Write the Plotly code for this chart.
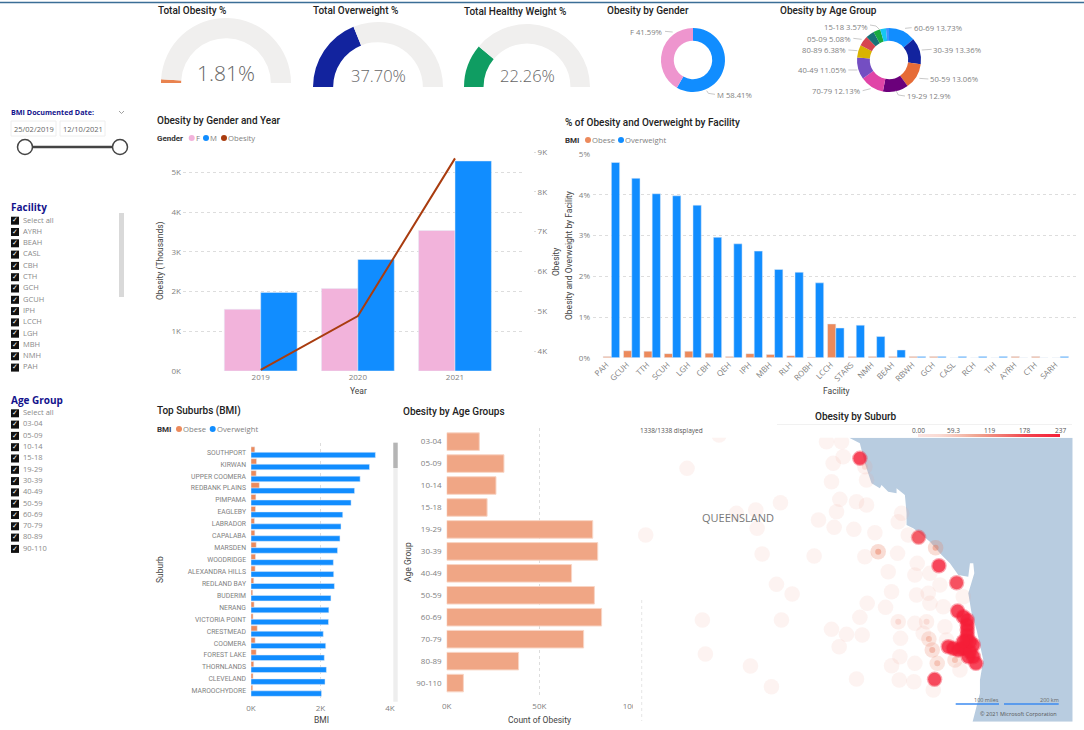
import plotly.graph_objects as go

W = 1084
H = 730

# gauges
gauge_names = ["Total Obesity %", "Total Overweight %", "Total Healthy Weight %"]
gauge_values = [1.81, 37.70, 22.26]
gauge_colors = ["#E9834F", "#12239E", "#0F9D62"]

# donuts
gender_names = ["M", "F"]
gender_share = [58.41, 41.59]
gender_colors = ["#118DFF", "#EE95CE"]

age_ring_names = ["60-69", "30-39", "50-59", "19-29", "70-79", "40-49", "80-89", "05-09", "10-14", "15-18", "03-04", "90-110"]
age_ring_share = [13.73, 13.36, 13.06, 12.9, 12.13, 11.05, 6.38, 5.08, 4.3, 3.57, 2.9, 1.54]
age_ring_colors = ["#118DFF", "#12239E", "#E66C37", "#6B007B", "#E044A7", "#744EC2", "#D9B300", "#D64550",
                   "#197278", "#1AAB40", "#15C6F4", "#4092FF"]

# gender and year
years = [2019, 2020, 2021]
female_obesity = [1554, 2080, 3540]
male_obesity = [1980, 2810, 5290]
total_obesity = [3530, 4880, 8840]

# facility
facilities = ["PAH", "GCUH", "TTH", "SCUH", "LGH", "CBH", "QEH", "IPH", "MBH", "RLH", "ROBH", "LCCH", "STARS", "NMH",
              "BEAH", "RBWH", "GCH", "CASL", "RCH", "TIH", "AYRH", "CTH", "SARH"]
facility_obese = [0.03, 0.17, 0.16, 0.10, 0.16, 0.11, 0.03, 0.10, 0.08, 0.05, 0.02, 0.83, 0.03, 0.03,
                  0.03, 0.03, 0.03, 0, 0, 0, 0.03, 0.03, 0]
facility_overweight = [4.80, 4.41, 4.03, 3.98, 3.75, 2.96, 2.80, 2.62, 2.17, 2.10, 1.84, 0.73, 0.80, 0.52,
                       0.19, 0.03, 0.03, 0.03, 0.03, 0.03, 0, 0, 0.03]

# suburbs
suburbs = ["SOUTHPORT", "KIRWAN", "UPPER COOMERA", "REDBANK PLAINS", "PIMPAMA", "EAGLEBY", "LABRADOR", "CAPALABA",
           "MARSDEN", "WOODRIDGE", "ALEXANDRA HILLS", "REDLAND BAY", "BUDERIM", "NERANG", "VICTORIA POINT",
           "CRESTMEAD", "COOMERA", "FOREST LAKE", "THORNLANDS", "CLEVELAND", "MAROOCHYDORE"]
suburb_obese = [110, 160, 150, 240, 140, 130, 100, 110, 150, 130, 120, 80, 50, 90, 60, 180, 120, 150, 80, 60, 50]
suburb_overweight = [3580, 3410, 3140, 2980, 2880, 2640, 2590, 2560, 2490, 2370, 2380, 2400, 2300, 2240, 2230,
                     2080, 2150, 2110, 2170, 2130, 2030]

# age groups
age_groups = ["03-04", "05-09", "10-14", "15-18", "19-29", "30-39", "40-49", "50-59", "60-69", "70-79", "80-89", "90-110"]
age_counts = [17600, 30900, 26600, 21800, 78800, 81500, 67400, 79700, 83600, 73900, 38800, 9000]

# slicers
facility_items = ["Select all", "AYRH", "BEAH", "CASL", "CBH", "CTH", "GCH", "GCUH", "IPH", "LCCH", "LGH", "MBH", "NMH", "PAH"]
age_items = ["Select all"] + age_groups

# map, in the map axes units
bubble_x = [268, 172, 590, 635, 610, 605, 640, 710, 630, 680, 710, 620, 452, 320, 378, 566, 613, 672, 382, 48, 735, 805,
            815, 835, 397, 553, 705, 803, 775, 855, 862, 900, 930, 440, 487, 785, 860, 895, 712, 767, 900, 940, 690, 855,
            218, 455, 605, 650, 697, 628, 812, 880, 227, 362, 810, 785, 855, 680, 808, 852, 425, 910, 990, 945, 950, 1000,
            745, 917, 897, 907, 922, 975, 805, 890, 705,
            690, 866, 927, 980, 914,
            983, 1012, 1012, 1010, 1005, 955, 985, 1030, 1038, 1015, 1030, 1000, 1012, 1012, 995, 970, 1020, 1020, 1000]
bubble_y = [105, 205, 125, 125, 190, 245, 170, 240, 298, 305, 315, 335, 308, 340, 330, 360, 382, 388, 385, 405, 398, 365,
            340, 405, 462, 468, 470, 460, 515, 525, 490, 520, 555, 553, 582, 575, 585, 580, 610, 622, 610, 620, 652, 670,
            660, 660, 688, 703, 705, 740, 715, 700, 762, 798, 770, 797, 790, 837, 840, 845, 860, 870, 810, 680, 720, 590,
            455, 443, 717, 750, 790, 780, 665, 665, 200,
            175, 412, 497, 548, 838,
            633, 660, 690, 720, 745, 740, 750, 770, 790, 770, 735, 650, 675, 705, 745, 745, 755, 725, 725]
bubble_value = [8] * 66 + [95, 90, 70, 80, 70, 70, 35, 30, 25] + [237, 190, 237, 215, 230] + [237] * 19

coast_x = [658, 690, 705, 725, 750, 755, 775, 800, 800, 825, 830, 830, 850, 870, 900, 935, 960, 985, 1015, 1020, 1030,
           1033, 1015, 1025, 1040, 1060, 1050, 1050, 1028]
coast_y = [113, 130, 190, 250, 265, 255, 275, 280, 265, 285, 340, 375, 385, 400, 425, 465, 490, 525, 530, 490, 490,
           520, 580, 640, 690, 780, 840, 880, 965]
colorbar_ticks = [0, 59.3, 119, 178, 237]
colorbar_labels = ["0.00", "59.3", "119", "178", "237"]

TITLE_FONT = "Roboto"
BODY_FONT = "Open Sans"
GREY = "#7f7f7f"
ORANGE = "#EC8A5C"
BLUE = "#118DFF"
PINK = "#F2B3DB"
RUST = "#A93C0F"
NAVY = "#12128C"

annotations = []
shapes = []


def dom_x(a, b):
    return [a / W, b / W]


def dom_y(top, bottom):
    return [1 - bottom / H, 1 - top / H]


def text(x, y, s, size=7.7, color=GREY, anchor="left", family=BODY_FONT, weight=None, angle=0):
    annotations.append(dict(x=x, y=y, xref="x7", yref="y7", text=s, showarrow=False, xanchor=anchor, yanchor="middle",
                            textangle=angle, borderpad=0, borderwidth=0,
                            font=dict(size=size, color=color, family=family, weight=weight)))


def title(x, y, s, anchor="left"):
    text(x, y, s, size=10, color="#222222", anchor=anchor, family=TITLE_FONT, weight=500)


def axis_title(x, y, s, angle=0):
    text(x, y, s, size=8.5, color="#444444", anchor="center", family=TITLE_FONT, angle=angle)


def rect(x0, y0, x1, y1, fill, line="rgba(0,0,0,0)"):
    shapes.append(dict(type="rect", xref="x7", yref="y7", x0=x0, y0=y0, x1=x1, y1=y1, fillcolor=fill,
                       line=dict(color=line, width=1), layer="below"))


def leader(points):
    path = "M " + " L ".join(str(600 + p[0] / 3) + " " + str(p[1] / 3) for p in points)
    shapes.append(dict(type="path", xref="x7", yref="y7", path=path, line=dict(color="#bbbbbb", width=0.8)))


fig = go.Figure()

# gauges
gauge_boxes = [(226, 83, 65), (378, 87, 65), (527, 87, 63)]
for name, value, color, box in zip(gauge_names, gauge_values, gauge_colors, gauge_boxes):
    cx, base, r = box
    fig.add_trace(go.Pie(values=[value, 100 - value, 100], marker=dict(colors=[color, "#F0EFEE", "rgba(0,0,0,0)"]),
                         sort=False, direction="clockwise", rotation=270, hole=0.69, textinfo="none", showlegend=False,
                         hoverinfo="skip", domain=dict(x=dom_x(cx - r, cx + r), y=dom_y(base - r, base + r))))

title(158, 10.5, gauge_names[0])
title(313, 10.5, gauge_names[1])
title(464, 11.5, gauge_names[2])
text(226, 73, "1.81%", size=21, color="#666666", anchor="center", weight=300)
text(378, 75, "37.70%", size=16.5, color="#666666", anchor="center", weight=300)
text(527, 75, "22.26%", size=16.5, color="#666666", anchor="center", weight=300)

# donuts
fig.add_trace(go.Pie(labels=gender_names, values=gender_share, marker=dict(colors=gender_colors), sort=False,
                     direction="clockwise", rotation=0, hole=0.6, textinfo="none", showlegend=False,
                     domain=dict(x=dom_x(661, 725), y=dom_y(28, 92))))
fig.add_trace(go.Pie(labels=age_ring_names, values=age_ring_share, marker=dict(colors=age_ring_colors), sort=False,
                     direction="clockwise", rotation=0, hole=0.6, textinfo="none", showlegend=False,
                     domain=dict(x=dom_x(857, 921), y=dom_y(28, 92))))
title(607, 10.5, "Obesity by Gender")
title(780, 10.5, "Obesity by Age Group")
text(662, 32, "F 41.59%", anchor="right")
text(717, 94.5, "M 58.41%")
text(868, 27, "15-18 3.57%", anchor="right")
text(851, 39, "05-09 5.08%", anchor="right")
text(846, 50.3, "80-89 6.38%", anchor="right")
text(846, 70, "40-49 11.05%", anchor="right")
text(860, 90.7, "70-79 12.13%", anchor="right")
text(907, 96, "19-29 12.9%")
text(930, 79, "50-59 13.06%")
text(933, 50, "30-39 13.36%")
text(914, 27.7, "60-69 13.73%")
for pts in [[(195, 94), (218, 96)], [(345, 283), (325, 280), (320, 272)], [(810, 75), (828, 78), (838, 88)],
            [(760, 115), (785, 118)], [(745, 150), (772, 152)], [(745, 210), (772, 210)], [(788, 272), (812, 266)],
            [(915, 288), (895, 285), (888, 272)], [(985, 237), (958, 235)], [(995, 148), (965, 150)],
            [(935, 83), (915, 85)]]:
    leader(pts)

# gender and year
fig.add_trace(go.Bar(x=years, y=female_obesity, name="F", marker_color=PINK, width=0.375, offset=-0.375, xaxis="x", yaxis="y",
                     showlegend=False))
fig.add_trace(go.Bar(x=years, y=male_obesity, name="M", marker_color=BLUE, width=0.375, offset=0, xaxis="x", yaxis="y",
                     showlegend=False))
fig.add_trace(go.Scatter(x=years, y=total_obesity, name="Obesity", mode="lines", line=dict(color=RUST, width=2),
                         xaxis="x", yaxis="y2", showlegend=False))

# facility
fig.add_trace(go.Bar(x=facilities, y=facility_obese, name="Obese", marker_color=ORANGE, width=0.405, offset=-0.405,
                     xaxis="x3", yaxis="y3", showlegend=False))
fig.add_trace(go.Bar(x=facilities, y=facility_overweight, name="Overweight", marker_color=BLUE, width=0.405, offset=0,
                     xaxis="x3", yaxis="y3", showlegend=False))

# suburbs
fig.add_trace(go.Bar(y=suburbs, x=suburb_obese, name="Obese", orientation="h", marker_color=ORANGE, width=0.46, offset=-0.46,
                     xaxis="x4", yaxis="y4", showlegend=False))
fig.add_trace(go.Bar(y=suburbs, x=suburb_overweight, name="Overweight", orientation="h", marker_color=BLUE, width=0.46, offset=0,
                     xaxis="x4", yaxis="y4", showlegend=False))

# age groups
fig.add_trace(go.Bar(y=age_groups, x=age_counts, orientation="h", marker=dict(color="#F0A685", line=dict(color="#F8D5C5", width=1)),
                     width=0.8, xaxis="x5", yaxis="y5", showlegend=False))

# slicers and legend dots sit on a pixel scale over the whole page
check_x = [15] * len(facility_items) + [15] * len(age_items)
check_y = [220.7 + i * 11.3 for i in range(len(facility_items))] + [413.3 + i * 11.3 for i in range(len(age_items))]
fig.add_trace(go.Scatter(x=check_x, y=check_y, mode="markers", marker=dict(symbol="square", size=8, color="#111111"),
                         xaxis="x7", yaxis="y7", showlegend=False, hoverinfo="skip"))
fig.add_trace(go.Scatter(x=check_x, y=check_y, mode="text", text=["✓"] * len(check_x),
                         textfont=dict(size=7, color="white", family="DejaVu Sans"), xaxis="x7", yaxis="y7",
                         showlegend=False, hoverinfo="skip"))
fig.add_trace(go.Scatter(x=[x + 8 for x in check_x], y=check_y, mode="text", text=facility_items + age_items,
                         textposition="middle right", textfont=dict(size=7.5, color="#8a8a8a", family=BODY_FONT),
                         xaxis="x7", yaxis="y7", showlegend=False, hoverinfo="skip"))
legend_dots_x = [191.7, 206, 224, 588, 621, 179, 212.7]
legend_dots_y = [138, 138, 138, 140, 140, 429, 429]
legend_dots_c = [PINK, BLUE, RUST, ORANGE, BLUE, ORANGE, BLUE]
fig.add_trace(go.Scatter(x=legend_dots_x, y=legend_dots_y, mode="markers", marker=dict(size=6, color=legend_dots_c),
                         xaxis="x7", yaxis="y7", showlegend=False, hoverinfo="skip"))
fig.add_trace(go.Scatter(x=[25, 120], y=[147, 147], mode="lines+markers", line=dict(color="#444444", width=2.5),
                         marker=dict(size=15, color="white", line=dict(color="#444444", width=1.5)), xaxis="x7", yaxis="y7",
                         showlegend=False, hoverinfo="skip"))

text(11, 112, "BMI Documented Date:", size=7.2, color=NAVY, weight=700)
shapes.append(dict(type="path", xref="x7", yref="y7", path="M 119 111 L 121.5 113.5 L 124 111", line=dict(color="#888888", width=0.8)))
rect(11, 121, 56, 136, "white", "#eeeeee")
rect(60, 121, 105, 136, "white", "#eeeeee")
text(33.5, 128.5, "25/02/2019", size=7.5, color="#666666", anchor="center")
text(82.5, 128.5, "12/10/2021", size=7.5, color="#666666", anchor="center")
text(11, 207, "Facility", size=10, color=NAVY, weight=700)
text(11, 400, "Age Group", size=10, color=NAVY, weight=700)
rect(119, 213, 124, 297, "#D9D9D9")

# chart titles and legends
title(157, 120, "Obesity by Gender and Year")
text(157, 138, "Gender", size=8, color="#333333", family=TITLE_FONT, weight=700)
text(196, 138, "F")
text(210, 138, "M")
text(228, 138, "Obesity")
axis_title(160, 261, "Obesity (Thousands)", angle=-90)
axis_title(556, 262, "Obesity", angle=-90)
axis_title(358, 391, "Year")

title(565, 122, "% of Obesity and Overweight by Facility")
text(565, 140, "BMI", size=8, color="#333333", family=TITLE_FONT, weight=700)
text(592, 140, "Obese")
text(625, 140, "Overweight")
axis_title(569, 256, "Obesity and Overweight by Facility", angle=-90)
axis_title(836, 391, "Facility")

title(157, 411, "Top Suburbs (BMI)")
text(157, 429, "BMI", size=8, color="#333333", family=TITLE_FONT, weight=700)
text(183, 429, "Obese")
text(217, 429, "Overweight")
axis_title(160, 570, "Suburb", angle=-90)
axis_title(321, 720, "BMI")
rect(393.3, 442.7, 397.7, 701.7, "#EEEEEE")
rect(393.3, 442.7, 397.7, 468, "#B5B5B5")

title(403, 411.5, "Obesity by Age Groups")
axis_title(408, 562, "Age Group", angle=-90)
axis_title(539, 720, "Count of Obesity")

# map
map_land_x = [10, 1328, 1328, 10]
map_land_y = [113, 113, 965, 965]
fig.add_trace(go.Scatter(x=map_land_x, y=map_land_y, fill="toself", fillcolor="white", mode="none", xaxis="x6", yaxis="y6",
                         showlegend=False, hoverinfo="skip"))
fig.add_trace(go.Scatter(x=coast_x + [1328, 1328], y=coast_y + [965, 113], fill="toself", fillcolor="#B8CCE0", mode="none",
                         xaxis="x6", yaxis="y6", showlegend=False, hoverinfo="skip"))
heat_scale = [[0, "rgba(240,160,150,0.3)"], [0.15, "rgba(240,150,130,0.35)"], [0.4, "rgba(232,120,90,0.65)"],
              [0.75, "rgba(240,50,60,0.9)"], [1, "rgba(245,30,55,1)"]]
strong = [i for i, v in enumerate(bubble_value) if v >= 25]
fig.add_trace(go.Scatter(x=bubble_x, y=bubble_y, mode="markers", xaxis="x6", yaxis="y6", showlegend=False, hoverinfo="skip",
                         marker=dict(size=15.5, color=bubble_value, colorscale=heat_scale, cmin=0, cmax=237, opacity=0.4, line_width=0)))
fig.add_trace(go.Scatter(x=[bubble_x[i] for i in strong], y=[bubble_y[i] for i in strong], mode="markers", xaxis="x6", yaxis="y6",
                         showlegend=False, hoverinfo="skip",
                         marker=dict(size=[13 if bubble_value[i] > 150 else 6 for i in strong], color=[bubble_value[i] for i in strong],
                                     colorscale=heat_scale, cmin=0, cmax=237, line_width=0, showscale=True,
                                     colorbar=dict(orientation="h", x=989 / W, xanchor="center", y=1 - 436.5 / H, yanchor="bottom",
                                                   lenmode="pixels", len=142, thickness=3, thicknessmode="pixels", xpad=0, ypad=0,
                                                   showticklabels=False, ticks="", outlinewidth=0))))
for tick, label in zip(colorbar_ticks, colorbar_labels):
    text(918 + tick / 237 * 142, 430, label, size=6.5, color="#555555", anchor="center")
title(856, 416.7, "Obesity by Suburb", anchor="center")
text(640, 430.7, "1338/1338 displayed", size=6.5, color="#555555")
text(738, 517, "QUEENSLAND", size=11, color="#777777", anchor="center")
text(999, 700, "100 miles", size=5.5, color="#666666", anchor="right")
text(1058.7, 700, "200 km", size=5.5, color="#666666", anchor="right")
text(1056.7, 714.3, "© 2021 Microsoft Corporation", size=5.5, color="#555555", anchor="right")
shapes.append(dict(type="line", xref="x7", yref="y7", x0=955.7, x1=999, y0=704, y1=704, line=dict(color="#3D8BF0", width=1.3)))
shapes.append(dict(type="line", xref="x7", yref="y7", x0=1004, x1=1058.7, y0=704, y1=704, line=dict(color="#3D8BF0", width=1.3)))
shapes.append(dict(type="line", xref="x7", yref="y7", x0=0, x1=W, y0=2.5, y1=2.5, line=dict(color="#3B6E96", width=1.6)))
shapes.append(dict(type="line", xref="x7", yref="y7", x0=777, x1=1072, y0=424.5, y1=424.5, line=dict(color="#EEEEEE", width=0.8)))
shapes.append(dict(type="line", xref="x7", yref="y7", x0=641.7, x1=641.7, y0=600, y1=721, line=dict(color="#DDDDDD", width=0.8, dash="dot")))

tick_font = dict(size=8, color=GREY, family=BODY_FONT)
grid = dict(showgrid=True, gridcolor="#DDDDDD", griddash="dot", gridwidth=1, zeroline=False, showline=False, tickfont=tick_font)
plain = dict(showgrid=False, zeroline=False, showline=False, tickfont=tick_font)

fig.update_layout(
    width=W, height=H, margin=dict(l=0, r=0, t=0, b=0, autoexpand=False), paper_bgcolor="white", plot_bgcolor="rgba(0,0,0,0)",
    barmode="overlay", showlegend=False, annotations=annotations, shapes=shapes,
    xaxis=dict(plain, domain=dom_x(183, 523), range=[2018.2, 2021.7], tickvals=years, ticks=""),
    yaxis=dict(grid, domain=dom_y(152, 371), range=[0, 5516], tickvals=[0, 1000, 2000, 3000, 4000, 5000],
               ticktext=["0K", "1K", "2K", "3K", "4K", "5K"], ticklabelstandoff=1),
    yaxis2=dict(plain, overlaying="y", side="right", anchor="free", position=533 / W, range=[3500, 9000],
                tickvals=[4000, 5000, 6000, 7000, 8000, 9000], ticktext=["4K", "5K", "6K", "7K", "8K", "9K"],
                ticks="outside", ticklen=2, tickcolor="#DDDDDD"),
    xaxis3=dict(plain, domain=dom_x(593, 1077), range=[-0.9, 22.82], anchor="y3", tickangle=-45, type="category",
                tickmode="array", tickvals=facilities, ticktext=facilities, ticklabelshift=-5),
    yaxis3=dict(grid, domain=dom_y(154.3, 357.7), range=[0, 5], anchor="x3", tickvals=[0, 1, 2, 3, 4, 5],
                ticktext=["0%", "1%", "2%", "3%", "4%", "5%"], ticklabelstandoff=2),
    xaxis4=dict(grid, domain=dom_x(251, 390), range=[0, 4000], anchor="y4", tickvals=[0, 2000, 4000],
                ticktext=["0K", "2K", "4K"], ticklabelstandoff=4),
    yaxis4=dict(plain, domain=dom_y(443, 698), range=[20.6, -0.78], anchor="x4", type="category", tickmode="array",
                tickvals=suburbs, ticktext=suburbs, ticklabelstandoff=4, tickfont=dict(size=6.8, color=GREY, family=TITLE_FONT)),
    xaxis5=dict(grid, domain=dom_x(446.7, 632), range=[0, 100000], anchor="y5", tickvals=[0, 50000, 100000],
                ticktext=["0K", "50K", "100K"], ticklabelstandoff=3),
    yaxis5=dict(plain, domain=dom_y(428, 696.7), range=[11.62, -0.62], anchor="x5", type="category", tickmode="array",
                tickvals=age_groups, ticktext=age_groups, ticklabelstandoff=4),
    xaxis6=dict(domain=dom_x(633, 1072.7), range=[10, 1328], anchor="y6", visible=False),
    yaxis6=dict(domain=dom_y(437.7, 721.7), range=[965, 113], anchor="x6", visible=False),
    xaxis7=dict(domain=[0, 1], range=[0, W], anchor="y7", visible=False),
    yaxis7=dict(domain=[0, 1], range=[H, 0], anchor="x7", visible=False),
)

fig.write_html("out.html", config=dict(displayModeBar=False), post_script="document.body.style.margin='0';")
